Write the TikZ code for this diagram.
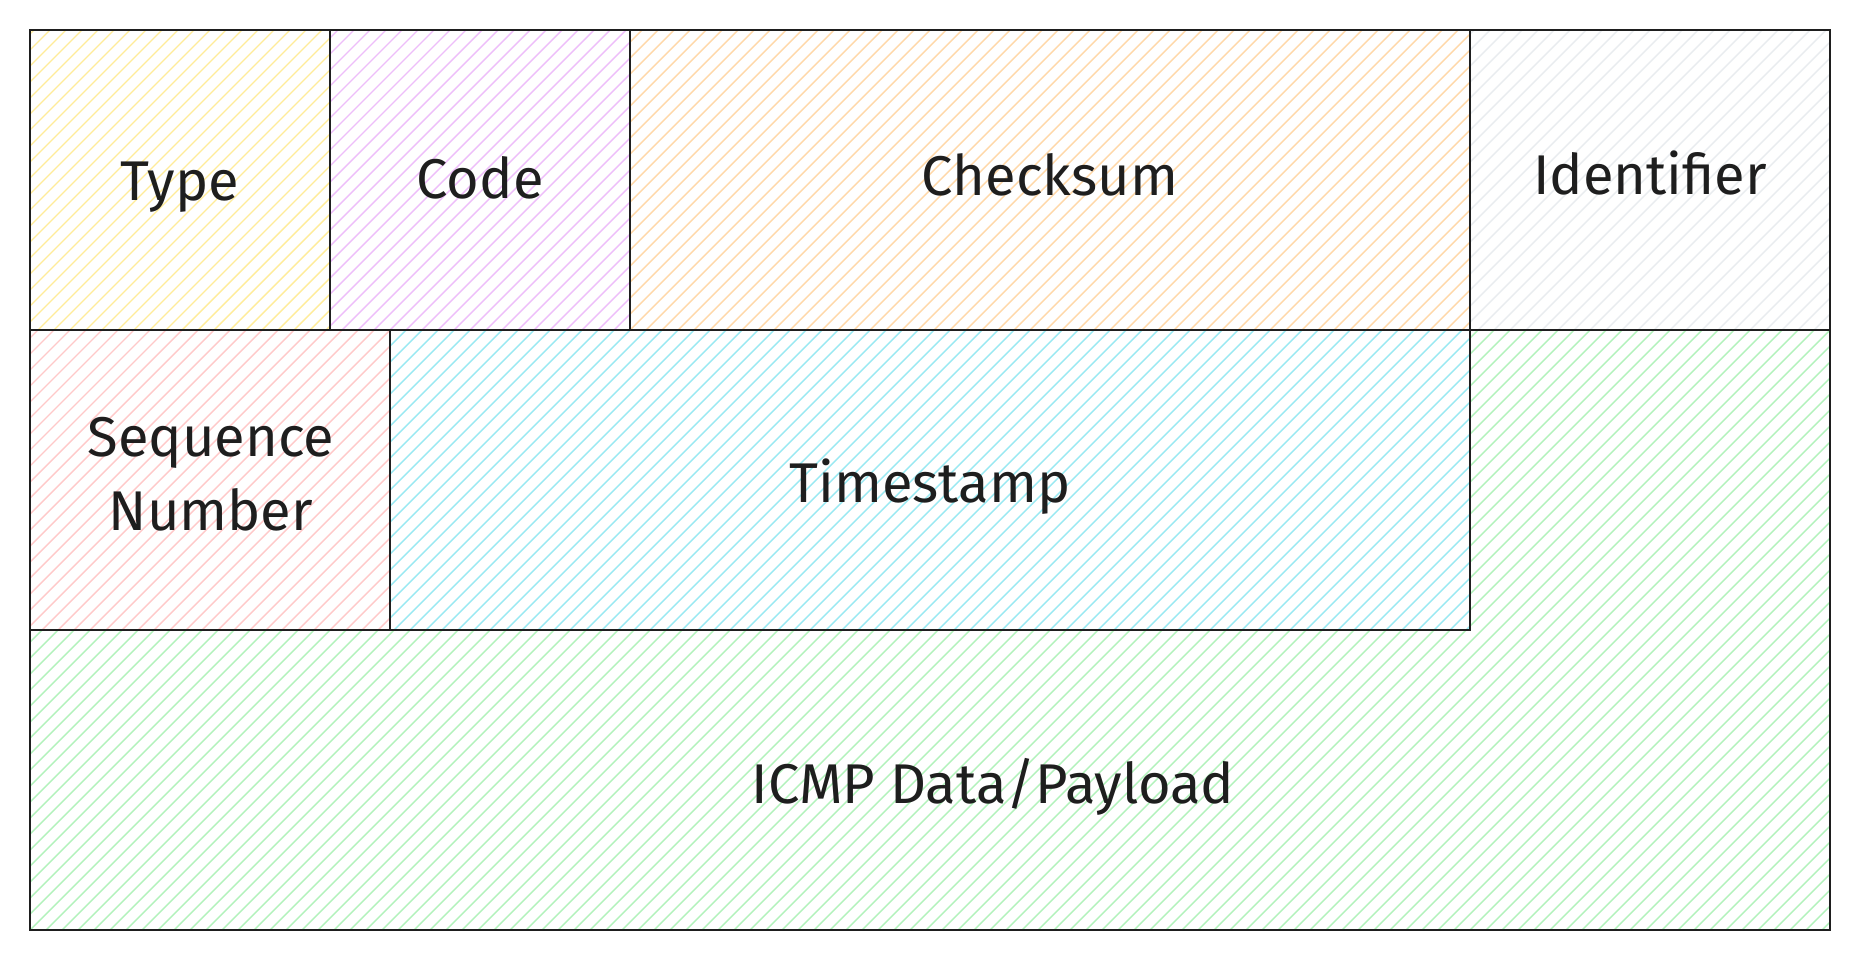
\documentclass[tikz,border=0pt]{standalone}
\usepackage{fontspec}
\setmainfont{Fira Sans}
\definecolor{ink}{HTML}{1E1E1E}
\definecolor{hyellow}{HTML}{FFEC99}
\definecolor{hviolet}{HTML}{EEBEFA}
\definecolor{horange}{HTML}{FFD8A8}
\definecolor{hgray}{HTML}{E9ECEF}
\definecolor{hpink}{HTML}{FFC9C9}
\definecolor{hcyan}{HTML}{99E9F2}
\definecolor{hgreen}{HTML}{B2F2BB}
\newcommand\hatchfill[2]{%
  \begin{scope}
    \clip #2;
    \foreach \i in {-960,-944,...,1860} \draw[hatch,#1] (\i,960) -- ++(960,-960);
  \end{scope}}
\begin{document}
\begin{tikzpicture}[x=0.5pt,y=-0.5pt,
  hatch/.style={line width=0.7pt},
  border/.style={draw=ink,line width=1.3pt,line cap=rect},
  label/.style={text=ink,font=\fontsize{28}{36}\selectfont,inner sep=0pt,anchor=base}]
\useasboundingbox (0,0) rectangle (1860,960);
\fill[white] (0,0) rectangle (1860,960);
% hatch fills
\hatchfill{hyellow}{(30,30) rectangle (330,330)}
\hatchfill{hviolet}{(330,30) rectangle (630,330)}
\hatchfill{horange}{(630,30) rectangle (1470,330)}
\hatchfill{hgray}{(1470,30) rectangle (1830,330)}
\hatchfill{hpink}{(30,330) rectangle (390,630)}
\hatchfill{hcyan}{(390,330) rectangle (1470,630)}
\hatchfill{hgreen}{(1470,330) -- (1830,330) -- (1830,930) -- (30,930) -- (30,630) -- (1470,630) -- cycle}
% borders
\draw[border] (30,30) rectangle (1830,930);
\draw[border] (30,330) -- (1830,330);
\draw[border] (30,630) -- (1470,630);
\draw[border] (330,30) -- (330,330);
\draw[border] (630,30) -- (630,330);
\draw[border] (1470,30) -- (1470,630);
\draw[border] (390,330) -- (390,630);
% labels
\node[label] (type) at (180,200) {Type};
\node[label] (code) at (480,198) {Code};
\node[label] (checksum) at (1050,195) {Checksum};
\node[label] (identifier) at (1650,194) {Identifier};
\node[label] (seq) at (211,456) {Sequence};
\node[label] (num) at (211,530) {Number};
\node[label] (timestamp) at (930,502) {Timestamp};
\node[label] (payload) at (993,803) {ICMP Data/Payload};
\end{tikzpicture}
\end{document}
